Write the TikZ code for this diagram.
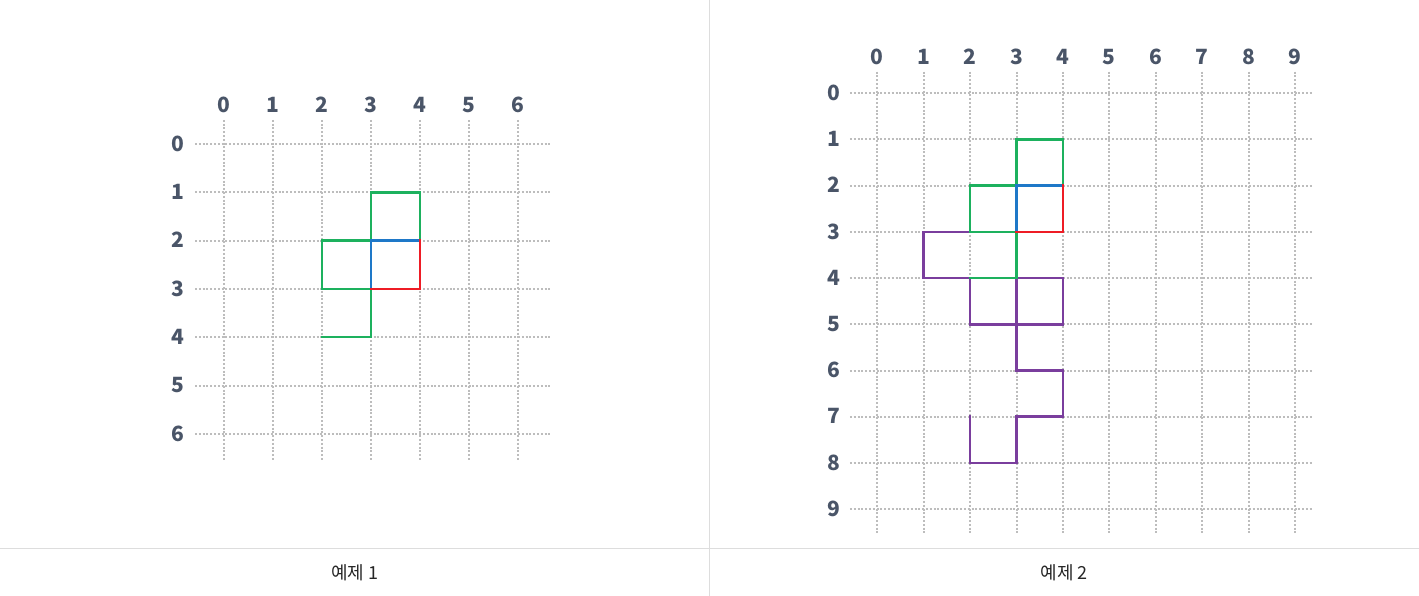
\documentclass[tikz,border=0pt]{standalone}
\usepackage{fontspec}
\usepackage{xcolor}
\usepackage{tikz}
\newfontfamily\labelfont{Noto Sans CJK KR}
\newfontfamily\krfont{Noto Sans CJK KR}
\definecolor{gridgray}{HTML}{BDBDBD}
\definecolor{labelgray}{HTML}{4A5568}
\definecolor{sepgray}{HTML}{DDDDDD}
\definecolor{dgreen}{HTML}{1DB15E}
\definecolor{dblue}{HTML}{1E78C8}
\definecolor{dred}{HTML}{EE1C25}
\definecolor{dpurple}{HTML}{7A3E9D}

\begin{document}
\begin{tikzpicture}[x=1pt, y=-1pt,
    gridline/.style={draw=gridgray, line width=2pt, dash pattern=on 2pt off 1.8pt},
    axislabel/.style={text=labelgray, font=\labelfont\bfseries\fontsize{21}{22}\selectfont,
        inner sep=0pt, text height=14.5pt, text depth=0pt},
    caption/.style={text=black!85, font=\krfont\fontsize{18}{20}\selectfont, inner sep=0pt},
    sepline/.style={draw=sepgray, line width=1pt},
    curve/.style={line width=2.5pt, line cap=rect}]
    \useasboundingbox (0,0) rectangle (1419,596);

    % separators
    \draw[sepline] (0,548) -- (1419,548);
    \draw[sepline] (709.5,0) -- (709.5,596);

    % example 1
    \begin{scope}[shift={(224,144)}, x=49pt, y=-48.3pt]
        \foreach \i in {0,...,6} {
            \draw[gridline] (\i,-0.5) -- (\i,6.54);
            \draw[gridline] (-0.59,\i) -- (6.69,\i);
            \node[axislabel] (a-col\i) at (\i,-0.81) {\i};
            \node[axislabel] (a-row\i) at (-0.94,\i) {\i};
        }
        \draw[curve, dgreen] (4,2) -- (4,1) -- (3,1) -- (3,2) -- (2,2) -- (2,3) -- (3,3) -- (3,4) -- (2,4);
        \draw[curve, dblue] (4,2) -- (3,2) -- (3,3);
        \draw[curve, dred] (3,3) -- (4,3) -- (4,2);
    \end{scope}
    \node[caption] (cap1) at (354.75,573) {예제 1};

    % example 2
    \begin{scope}[shift={(877.3,93.3)}, x=46.4pt, y=-46.2pt]
        \foreach \i in {0,...,9} {
            \draw[gridline] (\i,-0.47) -- (\i,9.56);
            \draw[gridline] (-0.59,\i) -- (9.38,\i);
            \node[axislabel] (b-col\i) at (\i,-0.78) {\i};
            \node[axislabel] (b-row\i) at (-0.93,\i) {\i};
        }
        \draw[curve, dpurple] (2,3) -- (1,3) -- (1,4) -- (2,4) -- (2,5) -- (3,5) -- (3,4) -- (4,4) -- (4,5)
            -- (3,5) -- (3,6) -- (4,6) -- (4,7) -- (3,7) -- (3,8) -- (2,8) -- (2,7);
        \draw[curve, dgreen] (4,2) -- (4,1) -- (3,1) -- (3,2) -- (2,2) -- (2,3) -- (3,3) -- (3,4) -- (2,4);
        \draw[curve, dblue] (4,2) -- (3,2) -- (3,3);
        \draw[curve, dred] (3,3) -- (4,3) -- (4,2);
    \end{scope}
    \node[caption] (cap2) at (1064.25,573) {예제 2};
\end{tikzpicture}
\end{document}
